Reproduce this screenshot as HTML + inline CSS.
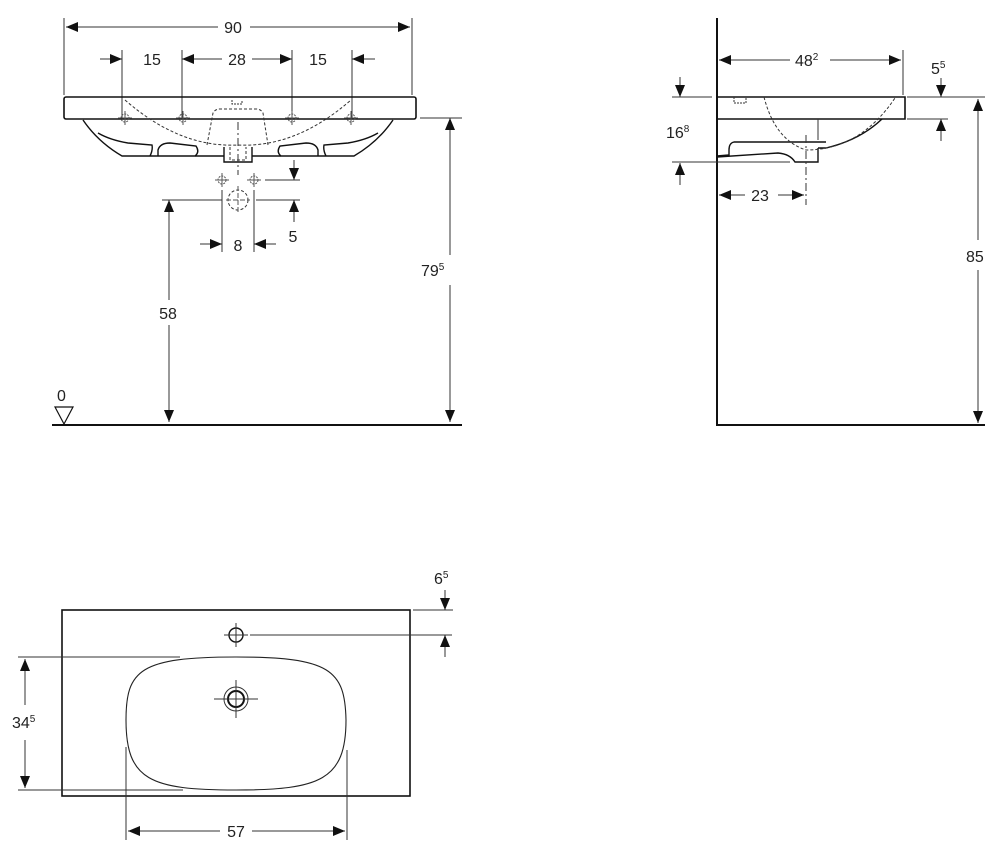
<!DOCTYPE html>
<html><head><meta charset="utf-8"><style>
html,body{margin:0;padding:0;background:#fff;}
svg{display:block;}
text{font-family:"Liberation Sans",sans-serif;fill:#222;}
</style></head><body>
<svg width="1000" height="862" viewBox="0 0 1000 862" xmlns="http://www.w3.org/2000/svg">
<defs>
<marker id="a" viewBox="0 0 12 10" refX="12" refY="5" markerWidth="12" markerHeight="10" markerUnits="userSpaceOnUse" orient="auto"><path d="M0,0 L12,5 L0,10 Z" fill="#111"/></marker>
<g id="ch"><circle r="4" fill="none" stroke="#555" stroke-width="1" stroke-dasharray="2,1"/><path d="M-7,0H7M0,-7V7" stroke="#555" stroke-width="1"/></g>
</defs>
<g fill="none" stroke="#333" stroke-width="1">
<!-- FRONT VIEW -->
<path d="M64,18V95M412,18V95"/>
<path d="M218,27H66" marker-end="url(#a)"/><path d="M250,27H410" marker-end="url(#a)"/>
<path d="M122,50V118M182,50V118M292,50V118M352,50V118"/>
<path d="M100,59H122" marker-end="url(#a)"/>
<path d="M222,59H182" marker-end="url(#a)"/>
<path d="M252,59H292" marker-end="url(#a)"/>
<path d="M375,59H352" marker-end="url(#a)"/>
<rect x="64" y="97" width="352" height="22" rx="2" stroke="#111" stroke-width="1.6"/>
<path d="M83,120 Q98,142 122,156 L195,156 Q200,152 196,146 L170,143 Q160,143 158,150 L158,156 M122,156 L150,156 Q153,150 152,145 L128,143 Q110,140 98,133" stroke="#111" stroke-width="1.4"/>
<path d="M393,120 Q378,142 354,156 L281,156 Q276,152 280,146 L306,143 Q316,143 318,150 L318,156 M354,156 L326,156 Q323,150 324,145 L348,143 Q366,140 378,133" stroke="#111" stroke-width="1.4"/>
<path d="M195,156H224M252,156H281" stroke="#111" stroke-width="1.4"/>
<path d="M224,147V162H252V147" stroke="#111" stroke-width="1.4"/>
<path d="M230,147V160H246V147" stroke-dasharray="3,2"/>
<path d="M125,100 Q180,148 238,145 Q296,148 351,100" stroke-dasharray="3,2"/>
<path d="M207,145 L213,113 Q215,109 220,109 L256,109 Q261,109 263,113 L268,145" stroke-dasharray="3,2"/>
<path d="M232,100 v4h10v-4" stroke-dasharray="2,1"/>
<path d="M238,122V175" stroke-dasharray="8,3,2,3"/>
<use href="#ch" x="125" y="118"/><use href="#ch" x="183" y="118"/><use href="#ch" x="292" y="118"/><use href="#ch" x="351" y="118"/>
<use href="#ch" x="222" y="180"/><use href="#ch" x="254" y="180"/>
<circle cx="238" cy="200" r="10" stroke-dasharray="3,2"/><path d="M238,186V214M226,200H250" stroke="#555" stroke-dasharray="5,2"/>
<path d="M294,160V180" marker-end="url(#a)"/><path d="M265,180H300"/>
<path d="M162,200H222M256,200H300"/>
<path d="M294,222V200" marker-end="url(#a)"/>
<path d="M222,190V252M254,190V252"/>
<path d="M200,244H222" marker-end="url(#a)"/><path d="M276,244H254" marker-end="url(#a)"/>
<path d="M169,300V200" marker-end="url(#a)"/><path d="M169,325V422" marker-end="url(#a)"/>
<path d="M420,118H462"/>
<path d="M450,255V118" marker-end="url(#a)"/><path d="M450,285V422" marker-end="url(#a)"/>
<path d="M52,425H462" stroke="#111" stroke-width="2"/>
<path d="M55,407H73L64,424Z" stroke="#111" stroke-width="1.2"/>
<!-- SIDE VIEW -->
<path d="M717,18V425H985" stroke="#111" stroke-width="2"/>
<path d="M717,97H905V119H717" stroke="#111" stroke-width="1.6"/>
<path d="M903,50V95"/>
<path d="M790,60H719" marker-end="url(#a)"/><path d="M830,60H901" marker-end="url(#a)"/>
<path d="M941,78V97" marker-end="url(#a)"/><path d="M941,141V119" marker-end="url(#a)"/>
<path d="M907,97H985M907,119H948"/>
<path d="M978,240V99" marker-end="url(#a)"/><path d="M978,270V423" marker-end="url(#a)"/>
<path d="M680,77V97" marker-end="url(#a)"/><path d="M680,185V163" marker-end="url(#a)"/>
<path d="M672,97H712M672,162H790"/>
<path d="M882,119 Q860,140 826,148 L818,148 M826,142 L734,142 Q729,143 729,150 L729,155 L717,156 M717,157 L778,153 Q790,154 795,162 L818,162 L818,148" stroke="#111" stroke-width="1.4"/>
<path d="M818,119V140"/>
<path d="M764,97 Q775,140 806,150 Q860,150 895,98" stroke-dasharray="3,2"/>
<path d="M734,97v6h12v-6" stroke-dasharray="2,1"/>
<path d="M806,135V205" stroke-dasharray="8,3,2,3"/>
<path d="M745,195H719" marker-end="url(#a)"/><path d="M778,195H804" marker-end="url(#a)"/>
<!-- PLAN VIEW -->
<rect x="62" y="610" width="348" height="186" stroke="#111" stroke-width="1.6"/>
<circle cx="236" cy="635" r="7" stroke="#111" stroke-width="1.4"/>
<path d="M224,635H248M236,623V647"/>
<path d="M250,635H452M413,610H453"/>
<path d="M445,590V610" marker-end="url(#a)"/><path d="M445,657V635" marker-end="url(#a)"/>
<path d="M236,657 C330,657 345,670 346,720 C346,780 320,790 236,790 C150,790 126,780 126,720 C126,670 140,657 236,657Z" stroke="#222" stroke-width="1.1"/>
<circle cx="236" cy="699" r="12"/><circle cx="236" cy="699" r="8" stroke="#111" stroke-width="2"/>
<path d="M214,699H258M236,680V718"/>
<path d="M18,657H180M18,790H183"/>
<path d="M25,705V659" marker-end="url(#a)"/><path d="M25,740V788" marker-end="url(#a)"/>
<path d="M126,747V840M347,750V840"/>
<path d="M220,831H128" marker-end="url(#a)"/><path d="M252,831H345" marker-end="url(#a)"/>
</g>
<g font-size="16">
<text x="233" y="33" text-anchor="middle">90</text>
<text x="152" y="65" text-anchor="middle">15</text>
<text x="237" y="65" text-anchor="middle">28</text>
<text x="318" y="65" text-anchor="middle">15</text>
<text x="293" y="242" text-anchor="middle">5</text>
<text x="238" y="251" text-anchor="middle">8</text>
<text x="168" y="319" text-anchor="middle">58</text>
<text x="421" y="276">79<tspan font-size="10" dy="-6">5</tspan></text>
<text x="57" y="401">0</text>
<text x="795" y="66">48<tspan font-size="10" dy="-6">2</tspan></text>
<text x="931" y="74">5<tspan font-size="10" dy="-6">5</tspan></text>
<text x="966" y="262">85</text>
<text x="666" y="138">16<tspan font-size="10" dy="-6">8</tspan></text>
<text x="760" y="201" text-anchor="middle">23</text>
<text x="434" y="584">6<tspan font-size="10" dy="-6">5</tspan></text>
<text x="12" y="728">34<tspan font-size="10" dy="-6">5</tspan></text>
<text x="236" y="837" text-anchor="middle">57</text>
</g>
</svg>
</body></html>
